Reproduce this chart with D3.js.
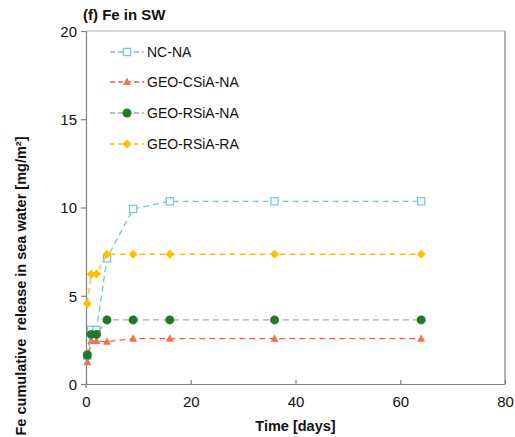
<!DOCTYPE html>
<html>
<head>
<meta charset="utf-8">
<script src="https://cdn.jsdelivr.net/npm/d3@7"></script>
<style>
  body { margin: 0; background: #fff; }
  svg { font-family: "Liberation Sans", Arial, sans-serif; }
</style>
</head>
<body>
<div id="chart"></div>
<script>
// sampling times (days)
const days = [0.25, 1, 2, 4, 9, 16, 36, 64];

// cumulative Fe release [mg/m2]
const ncNA      = [1.6, 3.06, 3.06, 7.12, 9.92, 10.35, 10.35, 10.35];
const geoCSiANA = [1.23, 2.44, 2.44, 2.4, 2.57, 2.57, 2.57, 2.57];
const geoRSiANA = [1.64, 2.81, 2.81, 3.63, 3.63, 3.63, 3.63, 3.63];
const geoRSiARA = [4.55, 6.23, 6.23, 7.35, 7.35, 7.35, 7.35, 7.35];

const seriesNames = ['NC-NA', 'GEO-CSiA-NA', 'GEO-RSiA-NA', 'GEO-RSiA-RA'];
const xTicks = [0, 20, 40, 60, 80];
const yTicks = [0, 5, 10, 15, 20];

const series = [
  {name: seriesNames[0], values: ncNA,      line: '#6cc4ea', marker: 'square',   fill: '#fff',    stroke: '#6cc4ea'},
  {name: seriesNames[1], values: geoCSiANA, line: '#ff5a4e', marker: 'triangle', fill: '#f2734a', stroke: '#f2734a'},
  {name: seriesNames[2], values: geoRSiANA, line: '#a6a6a6', marker: 'circle',   fill: '#1f7a2c', stroke: '#1f7a2c'},
  {name: seriesNames[3], values: geoRSiARA, line: '#ffc000', marker: 'diamond',  fill: '#ffc000', stroke: '#ffc000'},
];

const width = 515, height = 437;
const ml = 86, mr = 10, mt = 31, mb = 53;

const svg = d3.select('#chart').append('svg')
  .attr('width', width).attr('height', height);

const X = d3.scaleLinear().domain([0, 80]).range([ml, width - mr]);
const Y = d3.scaleLinear().domain([0, 20]).range([height - mb, mt]);

// frame
svg.append('line')
  .attr('x1', ml).attr('x2', width - mr).attr('y1', mt).attr('y2', mt)
  .attr('stroke', '#a8a8a8').attr('stroke-width', 1.2);
svg.append('line')
  .attr('x1', width - mr).attr('x2', width - mr).attr('y1', mt).attr('y2', height - mb)
  .attr('stroke', '#808080').attr('stroke-width', 1.2);

// axes
const xAxis = svg.append('g')
  .attr('transform', `translate(0,${height - mb})`)
  .call(d3.axisBottom(X).tickValues(xTicks).tickSizeInner(-4).tickSizeOuter(0).tickPadding(12));
const yAxis = svg.append('g')
  .attr('transform', `translate(${ml},0)`)
  .call(d3.axisLeft(Y).tickValues(yTicks).tickSizeInner(5).tickSizeOuter(0).tickPadding(4));
[xAxis, yAxis].forEach(a => {
  a.selectAll('path, line').attr('stroke', '#808080').attr('stroke-width', 1.2);
  a.selectAll('text').attr('font-size', 15).attr('fill', '#111')
    .attr('font-family', '"Liberation Sans", Arial, sans-serif');
});
yAxis.selectAll('text').attr('dy', '0.35em');
// small stub of the y axis below the x axis
svg.append('line')
  .attr('x1', ml).attr('x2', ml).attr('y1', height - mb).attr('y2', height - mb + 4)
  .attr('stroke', '#808080').attr('stroke-width', 1.2);

// markers
function drawMarker(g, kind, s) {
  if (kind === 'square') {
    g.append('rect').attr('x', -3.6).attr('y', -3.6).attr('width', 7.2).attr('height', 7.2)
      .attr('fill', s.fill).attr('stroke', s.stroke).attr('stroke-width', 1.2);
  } else if (kind === 'triangle') {
    g.append('path').attr('d', 'M0,-4.5L4,3L-4,3Z').attr('fill', s.fill);
  } else if (kind === 'circle') {
    g.append('circle').attr('r', 4.5).attr('fill', s.fill);
  } else {
    g.append('path').attr('d', 'M0,-4.5L4.5,0L0,4.5L-4.5,0Z').attr('fill', s.fill);
  }
}

const line = d3.line().x((d, i) => X(days[i])).y(d => Y(d));
const plot = svg.append('g');
series.forEach(s => {
  plot.append('path')
    .attr('d', line(s.values))
    .attr('fill', 'none')
    .attr('stroke', s.line)
    .attr('stroke-width', 1.3)
    .attr('stroke-dasharray', '6,4');
  s.values.forEach((v, i) => {
    const g = plot.append('g').attr('transform', `translate(${X(days[i])},${Y(v)})`);
    drawMarker(g, s.marker, s);
  });
});

// legend
const legendY = [52, 82, 113, 144];
series.forEach((s, i) => {
  const g = svg.append('g').attr('transform', `translate(110,${legendY[i]})`);
  g.append('line').attr('x1', 0).attr('x2', 34).attr('y1', 0).attr('y2', 0)
    .attr('stroke', s.line).attr('stroke-width', 1.3).attr('stroke-dasharray', '5,3');
  const m = g.append('g').attr('transform', 'translate(17,0)');
  drawMarker(m, s.marker, s);
  g.append('text').attr('x', 37).attr('y', 0).attr('dy', '0.36em')
    .attr('font-size', 14).attr('fill', '#111').text(s.name);
});

// title
svg.append('text').attr('x', 83).attr('y', 20)
  .attr('font-size', 15).attr('font-weight', 'bold').attr('fill', '#111')
  .text('(f) Fe in SW');

// axis labels
svg.append('text')
  .attr('x', (ml + width - mr) / 2).attr('y', 431)
  .attr('text-anchor', 'middle').attr('font-size', 14.5).attr('font-weight', 'bold').attr('fill', '#111')
  .text('Time [days]');
svg.append('text')
  .attr('transform', 'translate(26,286) rotate(-90)')
  .attr('text-anchor', 'middle').attr('font-size', 14.5).attr('font-weight', 'bold').attr('fill', '#111')
  .attr('xml:space', 'preserve')
  .text('Fe cumulative  release in sea water [mg/m²]');
</script>
</body>
</html>
